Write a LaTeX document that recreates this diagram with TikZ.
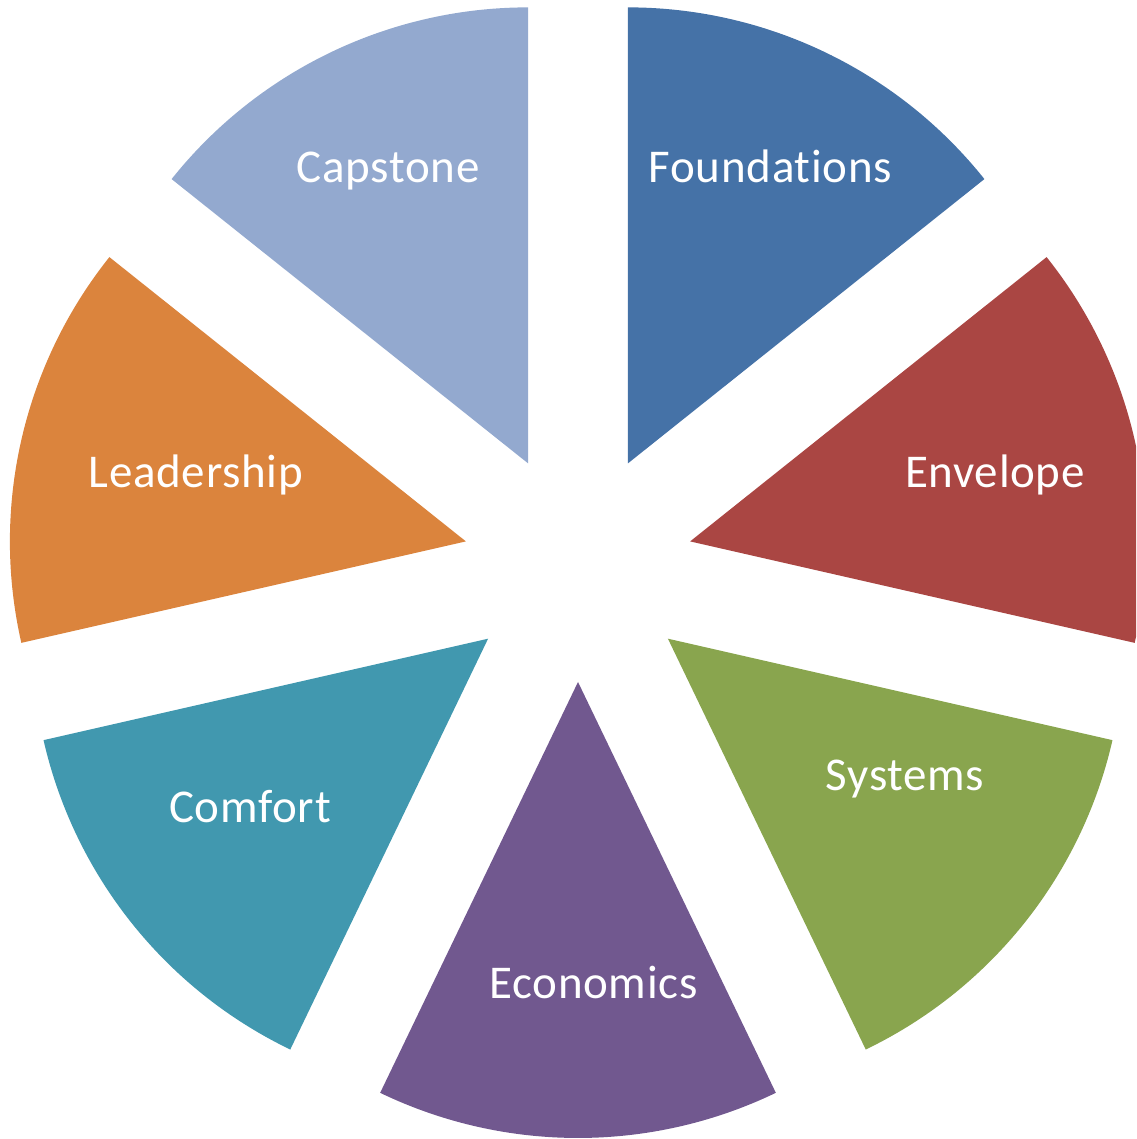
\documentclass[tikz,border=0pt]{standalone}
\usepackage{fontspec}
\setmainfont[Ligatures={NoCommon},LetterSpace=1.5]{Carlito}
\usetikzlibrary{calc}
\definecolor{cFound}{HTML}{4572A7}
\definecolor{cEnv}{HTML}{AA4643}
\definecolor{cSys}{HTML}{89A54E}
\definecolor{cEco}{HTML}{71588F}
\definecolor{cCom}{HTML}{4198AF}
\definecolor{cLead}{HTML}{DB843D}
\definecolor{cCap}{HTML}{93A9CF}
\begin{document}
\begin{tikzpicture}[x=1pt,y=1pt,
  lbl/.style={text=white,font=\fontsize{47}{56}\selectfont,anchor=base,inner sep=0pt}]
\useasboundingbox (0,0) rectangle (1136,1139);
\begin{scope}
\clip (0,0) rectangle (1136,1139);
\coordinate (O) at (578,572);
\foreach \a/\c in {38.5714/cFound, 90/cCap, 141.4286/cLead, 192.8571/cCom, 244.2857/cEco, 295.7143/cSys, 347.1429/cEnv}{
  \fill[\c] ($(O)+(\a+25.7143:115)$) -- ++(\a:456) arc[start angle=\a, end angle=\a+51.4286, radius=456] -- cycle;
}
\end{scope}
\node[lbl] (found) at (770.5,956) {Foundations};
\node[lbl] (cap) at (388,956) {Capstone};
\node[lbl] (env) at (995,651) {Envelope};
\node[lbl] (lead) at (196,651) {Leadership};
\node[lbl] (sys) at (905,348) {Systems};
\node[lbl] (com) at (250,316) {Comfort};
\node[lbl] (eco) at (593.5,140) {Economics};
\end{tikzpicture}
\end{document}
